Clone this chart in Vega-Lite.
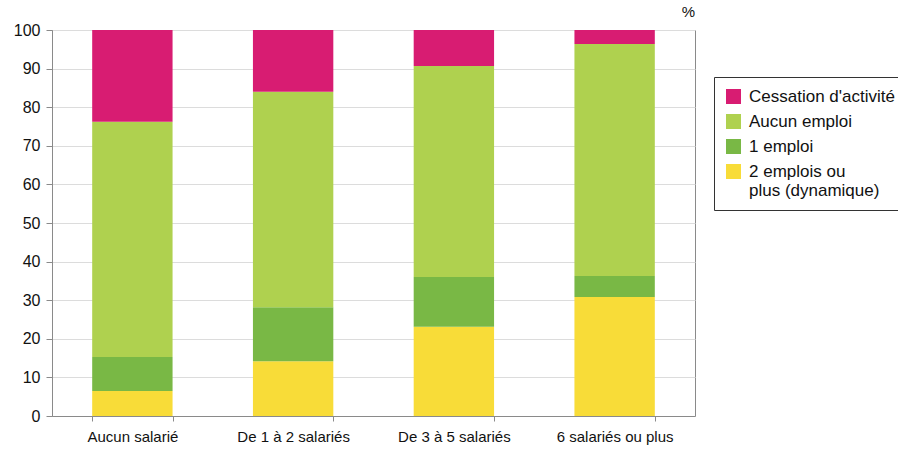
{
  "$schema": "https://vega.github.io/schema/vega-lite/v6.json",
  "autosize": {"type": "none"},
  "padding": {"left": 52, "top": 30, "right": 203, "bottom": 34},
  "width": 643,
  "height": 386,
  "background": "#ffffff",
  "config": {
    "font": "Liberation Sans",
    "view": {"stroke": "#8a8a8a", "strokeWidth": 1}
  },
  "data": {
    "values": [
      {"taille": "Aucun salarié", "statut": "2 emplois ou plus (dynamique)", "rang": 1, "pct": 6.5},
      {"taille": "Aucun salarié", "statut": "1 emploi", "rang": 2, "pct": 8.8},
      {"taille": "Aucun salarié", "statut": "Aucun emploi", "rang": 3, "pct": 60.9},
      {"taille": "Aucun salarié", "statut": "Cessation d'activité", "rang": 4, "pct": 23.8},
      {"taille": "De 1 à 2 salariés", "statut": "2 emplois ou plus (dynamique)", "rang": 1, "pct": 14.2},
      {"taille": "De 1 à 2 salariés", "statut": "1 emploi", "rang": 2, "pct": 14.0},
      {"taille": "De 1 à 2 salariés", "statut": "Aucun emploi", "rang": 3, "pct": 55.8},
      {"taille": "De 1 à 2 salariés", "statut": "Cessation d'activité", "rang": 4, "pct": 16.0},
      {"taille": "De 3 à 5 salariés", "statut": "2 emplois ou plus (dynamique)", "rang": 1, "pct": 23.1},
      {"taille": "De 3 à 5 salariés", "statut": "1 emploi", "rang": 2, "pct": 12.9},
      {"taille": "De 3 à 5 salariés", "statut": "Aucun emploi", "rang": 3, "pct": 54.7},
      {"taille": "De 3 à 5 salariés", "statut": "Cessation d'activité", "rang": 4, "pct": 9.3},
      {"taille": "6 salariés ou plus", "statut": "2 emplois ou plus (dynamique)", "rang": 1, "pct": 30.8},
      {"taille": "6 salariés ou plus", "statut": "1 emploi", "rang": 2, "pct": 5.5},
      {"taille": "6 salariés ou plus", "statut": "Aucun emploi", "rang": 3, "pct": 60.1},
      {"taille": "6 salariés ou plus", "statut": "Cessation d'activité", "rang": 4, "pct": 3.6}
    ]
  },
  "mark": {"type": "bar"},
  "encoding": {
    "x": {
      "field": "taille",
      "type": "nominal",
      "sort": null,
      "scale": {"paddingInner": 0.5, "paddingOuter": 0.25},
      "axis": {
        "title": null,
        "labelAngle": 0,
        "labelFontSize": 15,
        "labelColor": "#111111",
        "labelPadding": 8,
        "tickBand": "extent",
        "tickSize": 5,
        "tickColor": "#8a8a8a",
        "domainColor": "#8a8a8a"
      }
    },
    "y": {
      "field": "pct",
      "type": "quantitative",
      "stack": "zero",
      "scale": {"domain": [0, 100], "nice": false},
      "axis": {
        "title": "%",
        "titleAngle": 0,
        "titleX": 636,
        "titleY": -11,
        "titleFontSize": 15,
        "titleFontWeight": "normal",
        "titleColor": "#111111",
        "titleAlign": "center",
        "values": [0, 10, 20, 30, 40, 50, 60, 70, 80, 90, 100],
        "labelFontSize": 16,
        "labelColor": "#111111",
        "labelPadding": 6,
        "tickSize": 6,
        "tickColor": "#8a8a8a",
        "domainColor": "#8a8a8a",
        "gridColor": "#dcdcdc"
      }
    },
    "color": {
      "field": "statut",
      "type": "nominal",
      "scale": {
        "domain": ["Cessation d'activité", "Aucun emploi", "1 emploi", "2 emplois ou plus (dynamique)"],
        "range": ["#D81C72", "#AFD14F", "#79B845", "#F8DC38"]
      },
      "legend": {
        "title": null,
        "orient": "none",
        "legendX": 662,
        "legendY": 47,
        "strokeColor": "#333333",
        "padding": 11,
        "symbolType": "square",
        "symbolSize": 225,
        "symbolStrokeWidth": 0,
        "symbolOpacity": 1,
        "labelFontSize": 17,
        "labelColor": "#111111",
        "labelLimit": 400,
        "labelOffset": 7,
        "rowPadding": 7,
        "labelExpr": "datum.label == '2 emplois ou plus (dynamique)' ? ['2 emplois ou', 'plus (dynamique)'] : datum.label"
      }
    },
    "order": {"field": "rang", "type": "quantitative", "sort": "ascending"}
  }
}
